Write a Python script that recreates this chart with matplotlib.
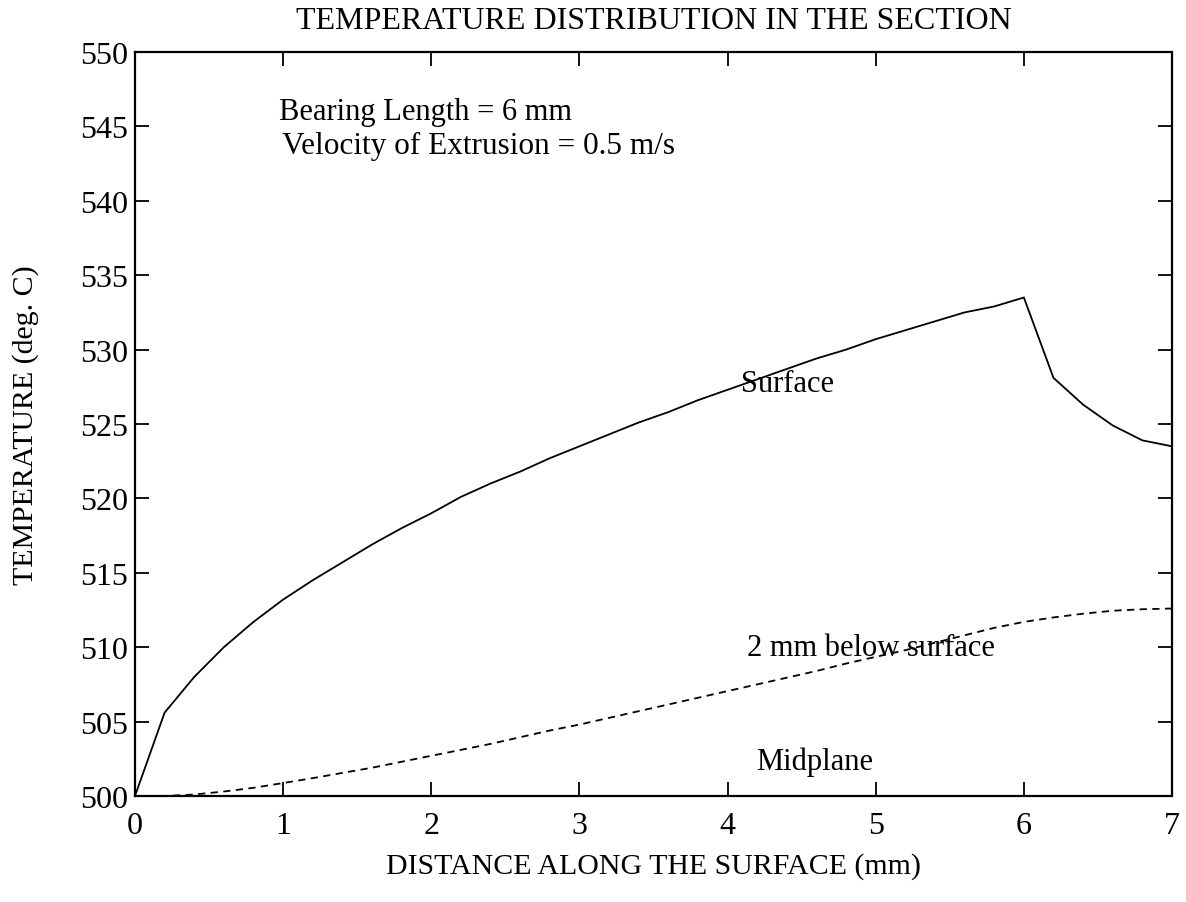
import matplotlib
matplotlib.use("Agg")
import matplotlib.pyplot as plt

plt.rcParams['font.family'] = ['Liberation Serif', 'DejaVu Serif']

# distance along the surface (mm)
distance = [0.0, 0.2, 0.4, 0.6, 0.8, 1.0, 1.2, 1.4, 1.6, 1.8, 2.0, 2.2, 2.4, 2.6,
            2.8, 3.0, 3.2, 3.4, 3.6, 3.8, 4.0, 4.2, 4.4, 4.6, 4.8, 5.0, 5.2, 5.4,
            5.6, 5.8, 6.0, 6.2, 6.4, 6.6, 6.8, 7.0]

# temperature at the surface (deg. C)
surface_temp = [500.0, 505.6, 508.0, 510.0, 511.7, 513.2, 514.5, 515.7, 516.9,
                518.0, 519.0, 520.1, 521.0, 521.8, 522.7, 523.5, 524.3, 525.1,
                525.8, 526.6, 527.3, 528.0, 528.7, 529.4, 530.0, 530.7, 531.3,
                531.9, 532.5, 532.9, 533.5, 528.1, 526.3, 524.9, 523.9, 523.5]

# temperature 2 mm below the surface (deg. C)
below_temp = [500.0, 500.0, 500.1, 500.3, 500.55, 500.87, 501.2, 501.55, 501.9,
              502.3, 502.7, 503.1, 503.5, 503.95, 504.4, 504.8, 505.25, 505.7,
              506.15, 506.6, 507.05, 507.5, 507.95, 508.4, 508.9, 509.35, 509.8,
              510.3, 510.8, 511.3, 511.7, 512.0, 512.25, 512.45, 512.55, 512.6]

# temperature at the midplane (deg. C)
midplane_temp = [500.0] * len(distance)

x_ticks = [0, 1, 2, 3, 4, 5, 6, 7]
y_ticks = [500, 505, 510, 515, 520, 525, 530, 535, 540, 545, 550]

fig = plt.figure(figsize=(11.86, 9.03), dpi=100)
ax = fig.add_axes([0.1138, 0.1174, 0.8744, 0.8239])

ax.plot(distance, surface_temp, color='black', lw=1.3, solid_joinstyle='miter')
ax.plot(distance, below_temp, color='black', lw=1.3, linestyle=(0, (4, 3)))
ax.plot(distance, midplane_temp, color='black', lw=1.3, linestyle='-.',
        clip_on=False)

ax.set_xlim(0, 7)
ax.set_ylim(500, 550)
ax.set_xticks(x_ticks)
ax.set_yticks(y_ticks)
ax.tick_params(direction='in', length=10, width=1.3, labelsize=23,
               top=True, right=True)
ax.tick_params(axis='x', pad=11)
ax.tick_params(axis='y', pad=5)
for s in ax.spines.values():
    s.set_linewidth(1.6)

ax.set_title('TEMPERATURE DISTRIBUTION IN THE SECTION', fontsize=23,
             y=1.043, pad=0, va='center')
ax.set_xlabel('DISTANCE ALONG THE SURFACE (mm)', fontsize=21.5, va='center')
ax.xaxis.set_label_coords(0.5, -0.093)
ax.set_ylabel('TEMPERATURE (deg. C)', fontsize=21.5, va='center')
ax.yaxis.set_label_coords(-0.106, 0.5)

ax.text(0.97, 546.0, 'Bearing Length = 6 mm', fontsize=22, va='center')
ax.text(0.99, 543.7, 'Velocity of Extrusion = 0.5 m/s', fontsize=22.5, va='center')
ax.text(4.09, 527.7, 'Surface', fontsize=22, va='center')
ax.text(4.13, 510.0, '2 mm below surface', fontsize=22, va='center')
ax.text(4.19, 502.35, 'Midplane', fontsize=22, va='center')

fig.savefig('out.png', dpi=100)
